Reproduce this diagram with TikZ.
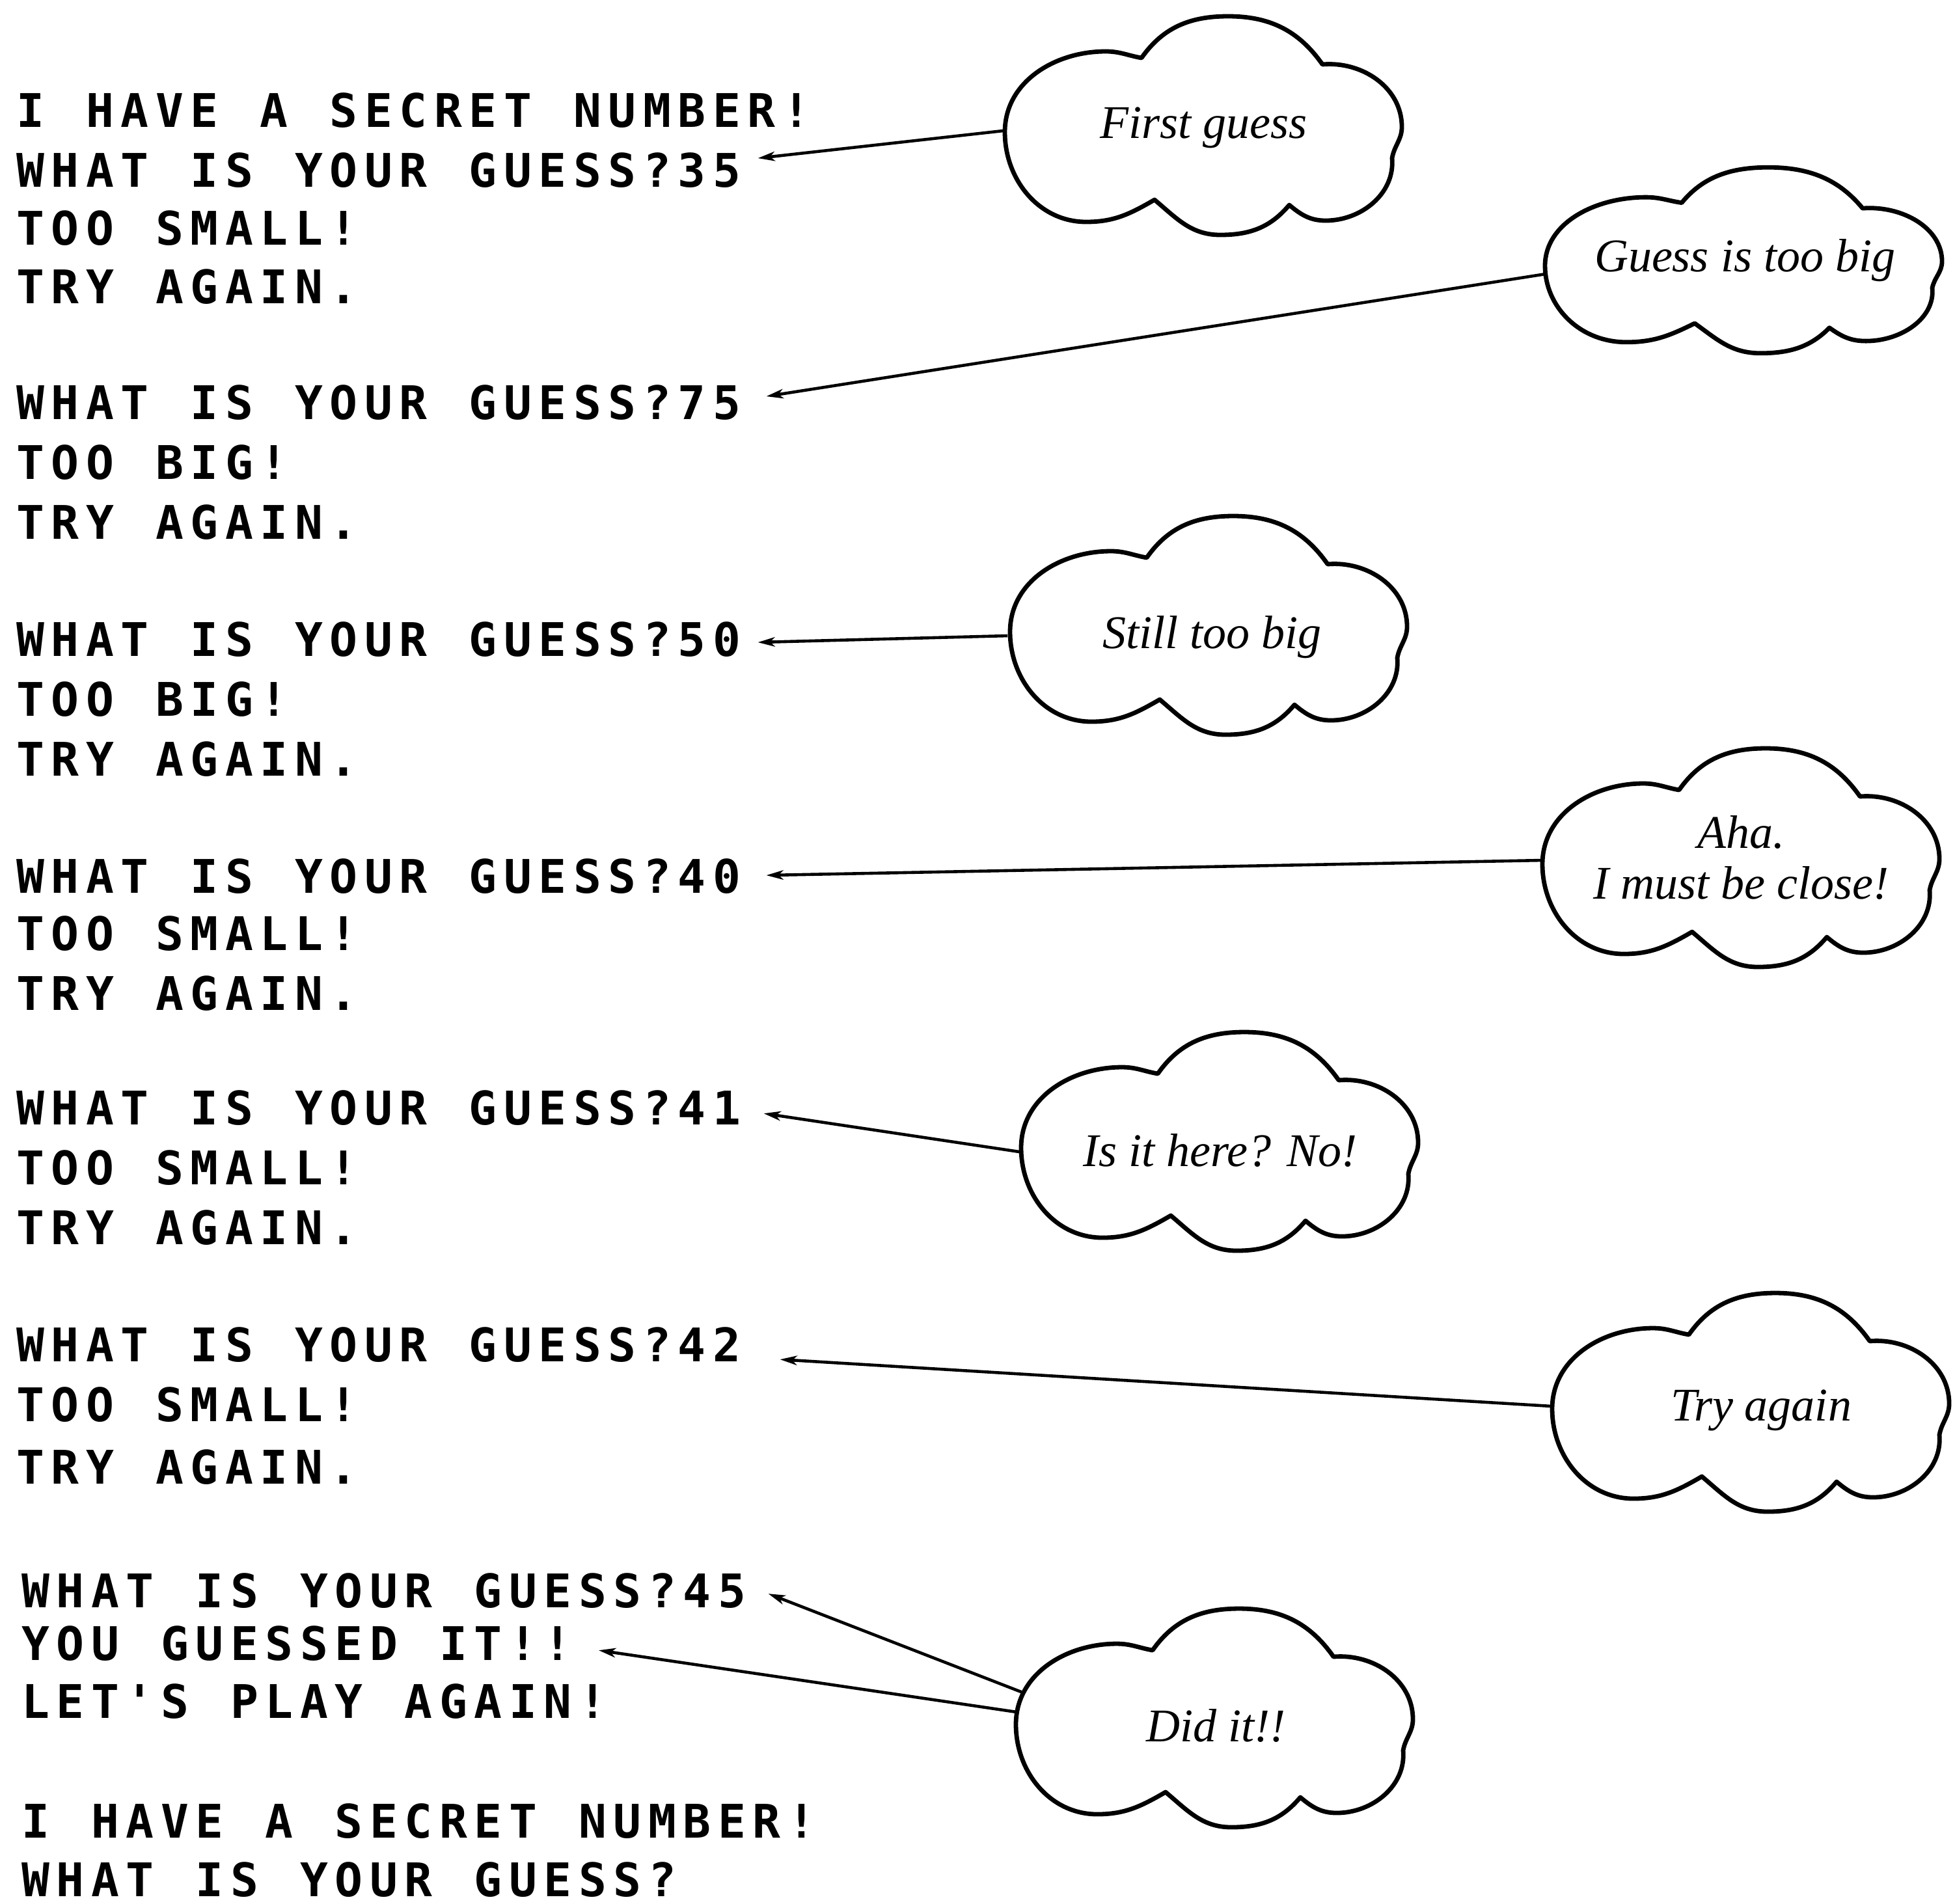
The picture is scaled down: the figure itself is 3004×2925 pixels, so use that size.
\documentclass[tikz,border=0pt]{standalone}
\usepackage{fontspec}
\setmainfont{Liberation Serif}
\newfontfamily\termfont{DejaVu Sans Mono}
\usetikzlibrary{shapes.geometric,arrows.meta}

% terminal output: every character sits in a cell of fixed pitch (~ for a blank cell)
\makeatletter
\newcommand\termline[1]{\@tfor\tl@ch:=#1\do{\makebox[13.38pt][c]{\tl@ch}}}
\makeatother

\tikzset{
  term/.style={anchor=base west, inner sep=0pt,
    font=\termfont\bfseries\fontsize{17.8pt}{20pt}\selectfont},
  cloudnode/.style={ellipse, inner sep=0pt, minimum width=153pt,
    minimum height=84pt},
  cloudtext/.style={anchor=base, inner sep=0pt, align=center,
    font=\itshape\fontsize{18pt}{19.5pt}\selectfont},
  pointer/.style={line width=1.15pt,
    -{Stealth[length=6.5pt,width=3.6pt,inset=1.8pt]}},
  cloudstroke/.style={line width=1.7pt, line join=round},
  cloudline/.pic={
    \draw[cloudstroke] (-95,104) to[out=55,in=180] (38,168)
      to[out=0,in=125] (183,94) to[out=5,in=90] (305,-2)
      to[out=-90,in=80] (290,-50) to[out=-85,in=0] (188,-146)
      to[out=180,in=-40] (132,-122) to[out=-130,in=0] (26,-168)
      to[out=180,in=-40] (-75,-114) to[out=-150,in=0] (-180,-148)
      to[out=180,in=-90] (-305,-10) to[out=90,in=180] (-150,114)
      to[out=0,in=170] (-95,104) -- cycle;
  }
}

\begin{document}
\begin{tikzpicture}[x=0.25pt, y=0.25pt]
\useasboundingbox (0,0) rectangle (3004,-2925);

% the dialogue printed by the program
\node[term] (l1)  at (19,-195)  {\termline{I~HAVE~A~SECRET~NUMBER!}};
\node[term] (l2)  at (19,-287)  {\termline{WHAT~IS~YOUR~GUESS?35}};
\node[term] (l3)  at (19,-376)  {\termline{TOO~SMALL!}};
\node[term] (l4)  at (19,-466)  {\termline{TRY~AGAIN.}};
\node[term] (l5)  at (19,-644)  {\termline{WHAT~IS~YOUR~GUESS?75}};
\node[term] (l6)  at (19,-736)  {\termline{TOO~BIG!}};
\node[term] (l7)  at (19,-828)  {\termline{TRY~AGAIN.}};
\node[term] (l8)  at (19,-1008) {\termline{WHAT~IS~YOUR~GUESS?50}};
\node[term] (l9)  at (19,-1100) {\termline{TOO~BIG!}};
\node[term] (l10) at (19,-1192) {\termline{TRY~AGAIN.}};
\node[term] (l11) at (19,-1372) {\termline{WHAT~IS~YOUR~GUESS?40}};
\node[term] (l12) at (19,-1460) {\termline{TOO~SMALL!}};
\node[term] (l13) at (19,-1552) {\termline{TRY~AGAIN.}};
\node[term] (l14) at (19,-1728) {\termline{WHAT~IS~YOUR~GUESS?41}};
\node[term] (l15) at (19,-1820) {\termline{TOO~SMALL!}};
\node[term] (l16) at (19,-1912) {\termline{TRY~AGAIN.}};
\node[term] (l17) at (19,-2092) {\termline{WHAT~IS~YOUR~GUESS?42}};
\node[term] (l18) at (19,-2184) {\termline{TOO~SMALL!}};
\node[term] (l19) at (19,-2280) {\termline{TRY~AGAIN.}};
\node[term] (l20) at (27,-2470) {\termline{WHAT~IS~YOUR~GUESS?45}};
\node[term] (l21) at (27,-2551) {\termline{YOU~GUESSED~IT!!}};
\node[term] (l22) at (27,-2640) {\termline{LET\textquotesingle S~PLAY~AGAIN!}};
\node[term] (l23) at (27,-2824) {\termline{I~HAVE~A~SECRET~NUMBER!}};
\node[term] (l24) at (27,-2914) {\termline{WHAT~IS~YOUR~GUESS?}};

% thought clouds
\node[cloudnode] (c1) at (1849,-193)  {};
\node[cloudnode, minimum height=71pt] (c2) at (2679,-400) {};
\node[cloudnode] (c3) at (1857,-961)  {};
\node[cloudnode] (c4) at (2675,-1318) {};
\node[cloudnode] (c5) at (1874,-1754) {};
\node[cloudnode] (c6) at (2690,-2155) {};
\node[cloudnode] (c7) at (1866,-2640) {};

\pic at (c1.center) {cloudline};
\pic[yscale=0.85] at (c2.center) {cloudline};
\pic at (c3.center) {cloudline};
\pic at (c4.center) {cloudline};
\pic at (c5.center) {cloudline};
\pic at (c6.center) {cloudline};
\pic at (c7.center) {cloudline};

% what each cloud says
\node[cloudtext] (t1) at ([shift={(0,-19)}]c1.center) {First guess};
\node[cloudtext] (t2) at ([shift={(2,-17)}]c2.center) {Guess is too big};
\node[cloudtext] (t3) at ([shift={(5,-35)}]c3.center) {Still too big};
\node[cloudtext, anchor=center] (t4) at (c4.center) {Aha.\\I must be close!};
\node[cloudtext] (t5) at ([shift={(1,-38)}]c5.center) {Is it here? No!};
\node[cloudtext] (t6) at ([shift={(16,-28)}]c6.center) {Try again};
\node[cloudtext] (t7) at ([shift={(2,-36)}]c7.center) {Did it!!};

% pointers from the clouds to the guesses
\draw[pointer] ([shift={(-1,-8)}]c1.west)  -- ([shift={(20,18)}]l2.east);
\draw[pointer] ([shift={(3,-21)}]c2.west)  -- ([shift={(33,9)}]l5.east);
\draw[pointer] ([shift={(-2,-16)}]c3.west) -- ([shift={(20,-5)}]l8.east);
\draw[pointer] ([shift={(3,-4)}]c4.west)   -- ([shift={(33,1)}]l11.east);
\draw[pointer] ([shift={(-1,-16)}]c5.west) -- ([shift={(29,-9)}]l14.east);
\draw[pointer] ([shift={(1,-6)}]c6.west)   -- ([shift={(54,-23)}]l17.east);
\draw[pointer] ([shift={(15,38)}]c7.west)  -- ([shift={(28,-5)}]l20.east);
\draw[pointer] ([shift={(3,9)}]c7.west)    -- ([shift={(35,-11)}]l21.east);
\end{tikzpicture}
\end{document}
